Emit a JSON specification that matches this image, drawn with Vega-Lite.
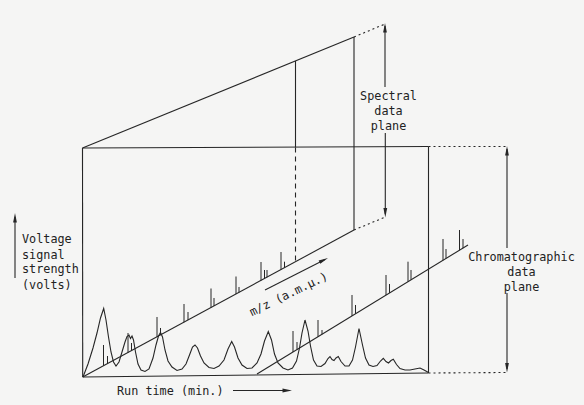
{
  "$schema": "https://vega.github.io/schema/vega-lite/v6.json",
  "width": 584,
  "height": 405,
  "padding": 0,
  "autosize": {"type": "fit", "contains": "padding"},
  "background": "#f5f5f4",
  "config": {"view": {"stroke": null}},
  "datasets": {
    "frame": [
      {"x": 82.5, "y": 148, "x2": 428.5, "y2": 146.5},
      {"x": 82.7, "y": 377, "x2": 428.5, "y2": 373},
      {"x": 82.5, "y": 148, "x2": 82.7, "y2": 377},
      {"x": 428.5, "y": 146.5, "x2": 428.5, "y2": 373},
      {"x": 82.5, "y": 148, "x2": 354, "y2": 37},
      {"x": 354, "y": 37, "x2": 354, "y2": 230},
      {"x": 82.7, "y": 377, "x2": 354, "y2": 230},
      {"x": 295.5, "y": 61, "x2": 295.5, "y2": 147.5},
      {"x": 257, "y": 374, "x2": 468, "y2": 245},
      {"x": 385, "y": 26, "x2": 385, "y2": 87},
      {"x": 385.3, "y": 133, "x2": 385.3, "y2": 214},
      {"x": 507, "y": 149, "x2": 507, "y2": 248},
      {"x": 507, "y": 293, "x2": 507, "y2": 369},
      {"x": 15, "y": 217, "x2": 15, "y2": 278},
      {"x": 233, "y": 390.5, "x2": 288, "y2": 390.5},
      {"x": 265, "y": 290, "x2": 325, "y2": 259.5}
    ],
    "hidden": [
      {"x": 295.5, "y": 147.5, "x2": 295.5, "y2": 261.8}
    ],
    "guides": [
      {"x": 354, "y": 37, "x2": 385, "y2": 24},
      {"x": 354, "y": 230, "x2": 385.3, "y2": 217},
      {"x": 428.5, "y": 146.5, "x2": 507, "y2": 146.5},
      {"x": 428.5, "y": 373, "x2": 507, "y2": 372.5}
    ],
    "spikes": [
      {"x": 103.5, "y": 365.7, "y2": 345},
      {"x": 107.5, "y": 363.6, "y2": 356},
      {"x": 128, "y": 352.5, "y2": 333},
      {"x": 131.5, "y": 350.6, "y2": 343},
      {"x": 157, "y": 336.8, "y2": 317},
      {"x": 160.5, "y": 334.9, "y2": 328},
      {"x": 184, "y": 322.2, "y2": 304},
      {"x": 188, "y": 320.0, "y2": 312},
      {"x": 211, "y": 307.5, "y2": 288.5},
      {"x": 214, "y": 305.9, "y2": 298},
      {"x": 236, "y": 294.0, "y2": 276.5},
      {"x": 239, "y": 292.4, "y2": 287},
      {"x": 261, "y": 280.5, "y2": 262},
      {"x": 264.5, "y": 278.6, "y2": 270},
      {"x": 267, "y": 277.2, "y2": 270},
      {"x": 281, "y": 269.6, "y2": 252},
      {"x": 284.5, "y": 267.7, "y2": 261.7},
      {"x": 293, "y": 352.0, "y2": 331},
      {"x": 297, "y": 349.5, "y2": 342},
      {"x": 318, "y": 336.7, "y2": 320},
      {"x": 322, "y": 334.3, "y2": 330},
      {"x": 352, "y": 315.9, "y2": 295},
      {"x": 355.5, "y": 313.8, "y2": 305},
      {"x": 386, "y": 295.1, "y2": 275},
      {"x": 389.5, "y": 293.0, "y2": 284},
      {"x": 408, "y": 281.7, "y2": 261.7},
      {"x": 411, "y": 279.8, "y2": 270},
      {"x": 443, "y": 260.3, "y2": 239},
      {"x": 446, "y": 258.4, "y2": 249},
      {"x": 459.5, "y": 250.2, "y2": 230},
      {"x": 463, "y": 248.1, "y2": 239}
    ],
    "chromatogram": [
      {"x": 83, "y": 377}, {"x": 88, "y": 364}, {"x": 93, "y": 348}, {"x": 97, "y": 333},
      {"x": 100.5, "y": 318}, {"x": 103.7, "y": 308.5}, {"x": 106, "y": 320}, {"x": 108.5, "y": 337},
      {"x": 111, "y": 352}, {"x": 113.5, "y": 362}, {"x": 116, "y": 366}, {"x": 119, "y": 362},
      {"x": 122, "y": 352}, {"x": 125, "y": 342}, {"x": 127, "y": 336.5}, {"x": 129, "y": 335},
      {"x": 130.5, "y": 338.5}, {"x": 132, "y": 336}, {"x": 133.5, "y": 340}, {"x": 135.5, "y": 352},
      {"x": 138, "y": 364}, {"x": 141, "y": 370}, {"x": 145, "y": 371.5}, {"x": 149, "y": 369},
      {"x": 153, "y": 358}, {"x": 156, "y": 345}, {"x": 158.5, "y": 336}, {"x": 160.5, "y": 332.5},
      {"x": 162.5, "y": 337}, {"x": 165, "y": 350}, {"x": 168, "y": 361}, {"x": 172, "y": 367},
      {"x": 177, "y": 370.5}, {"x": 182, "y": 369}, {"x": 186, "y": 364}, {"x": 189.5, "y": 355},
      {"x": 192.5, "y": 347}, {"x": 195, "y": 345}, {"x": 197.5, "y": 348}, {"x": 200.5, "y": 356},
      {"x": 204, "y": 363}, {"x": 209, "y": 367.5}, {"x": 214, "y": 368.5}, {"x": 219, "y": 366},
      {"x": 224, "y": 360}, {"x": 228, "y": 349}, {"x": 231.7, "y": 341.5}, {"x": 234.5, "y": 347},
      {"x": 238, "y": 358}, {"x": 242, "y": 365}, {"x": 247, "y": 368.5}, {"x": 252, "y": 368},
      {"x": 257, "y": 363}, {"x": 261, "y": 354}, {"x": 264.5, "y": 341}, {"x": 268.3, "y": 331.5},
      {"x": 271.5, "y": 340}, {"x": 274.5, "y": 354}, {"x": 278, "y": 363}, {"x": 283, "y": 368},
      {"x": 288, "y": 370}, {"x": 292.5, "y": 368}, {"x": 296.5, "y": 361}, {"x": 299.5, "y": 348},
      {"x": 302, "y": 333}, {"x": 305, "y": 320}, {"x": 308, "y": 331}, {"x": 310.5, "y": 346},
      {"x": 313.5, "y": 360}, {"x": 317, "y": 366}, {"x": 321, "y": 366.5}, {"x": 325, "y": 363.5},
      {"x": 328, "y": 358.5}, {"x": 330, "y": 356.5}, {"x": 332, "y": 359.5}, {"x": 334, "y": 360.5},
      {"x": 336, "y": 358}, {"x": 338.3, "y": 356.5}, {"x": 341, "y": 361.5}, {"x": 345, "y": 366},
      {"x": 349, "y": 366}, {"x": 352.5, "y": 360}, {"x": 355.5, "y": 347}, {"x": 359, "y": 328.5},
      {"x": 362.5, "y": 345}, {"x": 365.5, "y": 358}, {"x": 369, "y": 365}, {"x": 373, "y": 366.5},
      {"x": 377, "y": 365.5}, {"x": 380.5, "y": 361}, {"x": 383.3, "y": 358.3}, {"x": 386, "y": 361.5},
      {"x": 388.5, "y": 363}, {"x": 391, "y": 360.5}, {"x": 393.3, "y": 359.3}, {"x": 396.5, "y": 364.5},
      {"x": 400, "y": 368.5}, {"x": 405, "y": 370}, {"x": 410, "y": 370}, {"x": 415, "y": 369},
      {"x": 420, "y": 368}, {"x": 424, "y": 370}, {"x": 428.5, "y": 372.5}
    ],
    "arrowheads": [
      {"x": 385, "y": 23, "dir": "up"},
      {"x": 385.3, "y": 217.5, "dir": "down"},
      {"x": 507, "y": 146, "dir": "up"},
      {"x": 507, "y": 372.5, "dir": "down"},
      {"x": 15, "y": 213, "dir": "up"},
      {"x": 292, "y": 390.5, "dir": "right"},
      {"x": 328, "y": 258, "dir": "mz"}
    ],
    "labels": [
      {"x": 22, "y": 239, "text": "Voltage", "kind": "left"},
      {"x": 22, "y": 254.5, "text": "signal", "kind": "left"},
      {"x": 22, "y": 269, "text": "strength", "kind": "left"},
      {"x": 22, "y": 285, "text": "(volts)", "kind": "left"},
      {"x": 117, "y": 391, "text": "Run time (min.)", "kind": "left"},
      {"x": 388.5, "y": 96, "text": "Spectral", "kind": "center"},
      {"x": 388.5, "y": 110.5, "text": "data", "kind": "center"},
      {"x": 388.5, "y": 126, "text": "plane", "kind": "center"},
      {"x": 521.5, "y": 256.5, "text": "Chromatographic", "kind": "center"},
      {"x": 521.5, "y": 271.5, "text": "data", "kind": "center"},
      {"x": 521.5, "y": 286.5, "text": "plane", "kind": "center"},
      {"x": 288.5, "y": 294, "text": "m/z (a.m.μ.)", "kind": "rotated"}
    ]
  },
  "encoding": {
    "x": {"field": "x", "type": "quantitative", "scale": {"domain": [0, 584], "nice": false, "zero": false}, "axis": null},
    "y": {"field": "y", "type": "quantitative", "scale": {"domain": [0, 405], "nice": false, "zero": false, "reverse": true}, "axis": null}
  },
  "layer": [
    {
      "data": {"name": "frame"},
      "mark": {"type": "rule", "color": "#262626", "strokeWidth": 1.1},
      "encoding": {"x2": {"field": "x2"}, "y2": {"field": "y2"}}
    },
    {
      "data": {"name": "hidden"},
      "mark": {"type": "rule", "color": "#262626", "strokeWidth": 1.1, "strokeDash": [5, 4]},
      "encoding": {"x2": {"field": "x2"}, "y2": {"field": "y2"}}
    },
    {
      "data": {"name": "guides"},
      "mark": {"type": "rule", "color": "#262626", "strokeWidth": 1.1, "strokeDash": [2, 3]},
      "encoding": {"x2": {"field": "x2"}, "y2": {"field": "y2"}}
    },
    {
      "data": {"name": "spikes"},
      "mark": {"type": "rule", "color": "#262626", "strokeWidth": 1},
      "encoding": {"y2": {"field": "y2"}}
    },
    {
      "data": {"name": "chromatogram"},
      "mark": {"type": "line", "color": "#262626", "strokeWidth": 1.1, "interpolate": "linear"},
      "encoding": {}
    },
    {
      "data": {"name": "arrowheads"},
      "transform": [{"filter": "datum.dir === 'up'"}],
      "mark": {"type": "point", "shape": "M0,0L0.4,2L-0.4,2Z", "filled": true, "color": "#262626", "size": 90, "opacity": 1}
    },
    {
      "data": {"name": "arrowheads"},
      "transform": [{"filter": "datum.dir === 'down'"}],
      "mark": {"type": "point", "shape": "M0,0L0.4,-2L-0.4,-2Z", "filled": true, "color": "#262626", "size": 90, "opacity": 1}
    },
    {
      "data": {"name": "arrowheads"},
      "transform": [{"filter": "datum.dir === 'right'"}],
      "mark": {"type": "point", "shape": "M0,0L-2,0.4L-2,-0.4Z", "filled": true, "color": "#262626", "size": 90, "opacity": 1}
    },
    {
      "data": {"name": "arrowheads"},
      "transform": [{"filter": "datum.dir === 'mz'"}],
      "mark": {"type": "point", "shape": "M0,0L-2,0.4L-2,-0.4Z", "filled": true, "color": "#262626", "size": 90, "opacity": 1, "angle": 334}
    },
    {
      "data": {"name": "labels"},
      "transform": [{"filter": "datum.kind === 'left'"}],
      "mark": {"type": "text", "align": "left", "baseline": "middle", "font": "DejaVu Sans Mono", "fontSize": 11.8, "color": "#222222"},
      "encoding": {"text": {"field": "text"}}
    },
    {
      "data": {"name": "labels"},
      "transform": [{"filter": "datum.kind === 'center'"}],
      "mark": {"type": "text", "align": "center", "baseline": "middle", "font": "DejaVu Sans Mono", "fontSize": 11.8, "color": "#222222"},
      "encoding": {"text": {"field": "text"}}
    },
    {
      "data": {"name": "labels"},
      "transform": [{"filter": "datum.kind === 'rotated'"}],
      "mark": {"type": "text", "align": "center", "baseline": "middle", "font": "DejaVu Sans Mono", "fontSize": 11.8, "color": "#222222", "angle": 334},
      "encoding": {"text": {"field": "text"}}
    }
  ]
}
